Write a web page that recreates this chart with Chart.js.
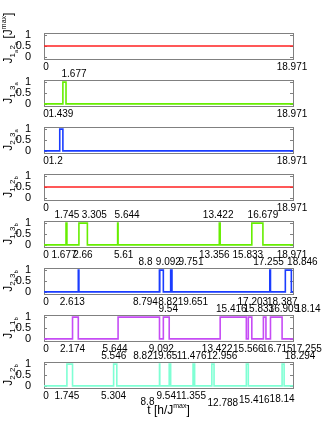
<!DOCTYPE html>
<html><head><meta charset="utf-8">
<script src="https://cdn.jsdelivr.net/npm/chart.js@4/dist/chart.umd.min.js"></script>
<style>
html,body{margin:0;padding:0;background:#fff;}
#wrap{position:relative;width:324px;height:444px;overflow:hidden;background:#fff;}
#wrap canvas{position:absolute;left:0;}
</style></head><body><div id="wrap"></div>
<script>
const tMax = 18.971;
// switching times (x) and coupling states (y), one pair per panel
const t_1a2a = [0, 18.971];
const J_1a2a = [0.5, 0.5];
const t_1a3a = [0, 1.439, 1.677, 18.971];
const J_1a3a = [0, 1, 0, 0];
const t_2a3a = [0, 1.2, 1.439, 18.971];
const J_2a3a = [0, 1, 0, 0];
const t_1b2b = [0, 18.971];
const J_1b2b = [0.5, 0.5];
const t_1b3b = [0, 1.677, 1.745, 2.66, 3.305, 5.61, 5.644, 13.356, 13.422, 15.833, 16.679, 18.971];
const J_1b3b = [0, 1, 0, 1, 0, 1, 0, 1, 0, 1, 0, 0];
const t_2b3b = [0, 2.613, 2.66, 8.794, 8.8, 8.821, 9.092, 9.651, 9.751, 17.203, 17.255, 18.387, 18.846, 18.971];
const J_2b3b = [0, 1, 0, 1, 0, 1, 0, 1, 0, 1, 0, 1, 0, 0];
const t_1a1b = [0, 2.174, 2.613, 5.644, 8.8, 9.092, 9.54, 13.422, 15.416, 15.566, 15.833, 16.715, 16.909, 17.255, 18.14, 18.971];
const J_1a1b = [0, 1, 0, 1, 0, 1, 0, 1, 0, 1, 0, 1, 0, 1, 0, 0];
const t_2a2b = [0, 1.745, 2.174, 5.304, 5.546, 8.8, 8.821, 9.54, 9.65, 11.355, 11.476, 12.788, 12.956, 15.416, 15.566, 18.14, 18.294, 18.971];
const J_2a2b = [0, 1, 0, 1, 0, 1, 0, 1, 0, 1, 0, 1, 0, 1, 0, 1, 0, 0];
// x tick labels: below each panel (switch-on) and above (switch-off)
const below_1a2a = ['0', '18.971'];
const above_1a2a = [];
const below_1a3a = ['0', '1.439', '18.971'];
const above_1a3a = ['1.677'];
const below_2a3a = ['0', '1.2', '18.971'];
const above_2a3a = [];
const below_1b2b = ['0', '18.971'];
const above_1b2b = [];
const below_1b3b = ['0', '1.677', '2.66', '5.61', '13.356', '15.833', '18.971'];
const above_1b3b = ['1.745', '3.305', '5.644', '13.422', '16.679'];
const below_2b3b = ['0', '2.613', '8.794', '8.821', '9.651', '17.203', '18.387'];
const above_2b3b = ['8.8', '9.092', '9.751', '17.255', '18.846'];
const below_1a1b = ['0', '2.174', '5.644', '9.092', '13.422', '15.566', '16.715', '17.255'];
const above_1a1b = ['9.54', '15.416', '15.833', '16.909', '18.14'];
const below_2a2b = ['0', '1.745', '5.304', '8.8', '9.54', '11.355', '12.788', '15.416', '18.14'];
const above_2a2b = ['5.546', '8.821', '9.65', '11.476', '12.956', '18.294'];
const yTicks = [0, 0.5, 1];

// label placement style: pixel offsets [dx, dy] that de-clutter crowded tick labels
const labelShift = {
  'all:0': [2, 0], 'all:18.971': [-1, 0],
  '1:a:1.677': [8, 0], '1:b:1.439': [-2, 0], '2:b:1.2': [-4, 0],
  '4:a:3.305': [7, 0], '4:a:5.644': [9, 0], '4:a:13.422': [-2, 0],
  '4:b:1.677': [-2, 0], '4:b:2.66': [4, 0], '4:b:5.61': [6, 0], '4:b:13.356': [-5, 0], '4:b:15.833': [-4, 0],
  '5:a:8.8': [-14, 0], '5:a:9.092': [5, 0], '5:a:9.751': [19, 0], '5:a:17.255': [-2, 0], '5:a:18.846': [11, 0],
  '5:b:2.613': [-6, 0], '5:b:8.794': [-14, 0], '5:b:8.821': [11, 0], '5:b:9.651': [25, 0], '5:b:17.203': [-17, 0], '5:b:18.387': [-3, 0],
  '6:a:9.54': [-1, 0], '6:a:15.416': [-15, 0], '6:a:15.833': [7, 0], '6:a:16.909': [18, 0], '6:a:18.14': [26, 0],
  '6:b:5.644': [-3, 0], '6:b:9.092': [-2, 0], '6:b:13.422': [-3, 0], '6:b:16.715': [14, 0], '6:b:17.255': [36, 0],
  '7:a:5.546': [-3, 0], '7:a:8.821': [-14, 0], '7:a:9.65': [-3, 0], '7:a:11.476': [-3, 0], '7:a:12.956': [8, 0], '7:a:18.294': [16, 0],
  '7:b:8.8': [-12, 6], '7:b:9.54': [-3, 0], '7:b:11.355': [-2, 0], '7:b:12.788': [11, 7], '7:b:15.416': [8, 4], '7:b:18.14': [0, 3]
};

const FONT = '"Liberation Sans", Arial, sans-serif';
const panels = [
  {t: t_1a2a, J: J_1a2a, below: below_1a2a, above: above_1a2a, color: '#ff2020', ylab: [['J',0],['1',1],['a',2],['2',1],['a',2],[' [J',0],['max',-1],[']',0]]},
  {t: t_1a3a, J: J_1a3a, below: below_1a3a, above: above_1a3a, color: '#66ee00', ylab: [['J',0],['1',1],['a',2],['3',1],['a',2]]},
  {t: t_2a3a, J: J_2a3a, below: below_2a3a, above: above_2a3a, color: '#1a3cff', ylab: [['J',0],['2',1],['a',2],['3',1],['a',2]]},
  {t: t_1b2b, J: J_1b2b, below: below_1b2b, above: above_1b2b, color: '#ff2020', ylab: [['J',0],['1',1],['b',2],['2',1],['b',2]]},
  {t: t_1b3b, J: J_1b3b, below: below_1b3b, above: above_1b3b, color: '#66ee00', ylab: [['J',0],['1',1],['b',2],['3',1],['b',2]]},
  {t: t_2b3b, J: J_2b3b, below: below_2b3b, above: above_2b3b, color: '#1a3cff', ylab: [['J',0],['2',1],['b',2],['3',1],['b',2]]},
  {t: t_1a1b, J: J_1a1b, below: below_1a1b, above: above_1a1b, color: '#c64cf5', ylab: [['J',0],['1',1],['a',2],['1',1],['b',2]]},
  {t: t_2a2b, J: J_2a2b, below: below_2a2b, above: above_2a2b, color: '#7fffd4', ylab: [['J',0],['2',1],['a',2],['2',1],['b',2]]}
];

const LV = {'0': {size: 12, dy: 0}, '1': {size: 8, dy: 3}, '2': {size: 6, dy: 5.5}, '-1': {size: 7, dy: -6}};
function richWidth(ctx, parts) {
  let w = 0;
  for (const [s, l] of parts) { ctx.font = LV[l].size + 'px ' + FONT; w += ctx.measureText(s).width; }
  return w;
}
function drawRich(ctx, parts, cx, cy, rotate) {
  ctx.save();
  ctx.translate(cx, cy);
  if (rotate) ctx.rotate(-Math.PI / 2);
  const w = richWidth(ctx, parts);
  let x = -w / 2;
  ctx.textBaseline = 'alphabetic';
  ctx.textAlign = 'left';
  ctx.fillStyle = '#000';
  for (const [s, l] of parts) {
    ctx.font = LV[l].size + 'px ' + FONT;
    ctx.fillText(s, x, LV[l].dy);
    x += ctx.measureText(s).width;
  }
  ctx.restore();
}
function drawRow(ctx, xs, labels, y, key) {
  ctx.font = '10px ' + FONT;
  ctx.textBaseline = 'middle';
  ctx.textAlign = 'center';
  ctx.fillStyle = '#000';
  for (const s of labels) {
    const sh = labelShift[key + ':' + s] || labelShift['all:' + s] || [0, 0];
    ctx.fillText(s, xs.getPixelForValue(parseFloat(s)) + sh[0], y + sh[1]);
  }
}

const TOP0 = 33, STEP = 47, H = 26;
const wrap = document.getElementById('wrap');
panels.forEach((p, i) => {
  const top = TOP0 + STEP * i;
  const padTop = 22, padBot = (i === panels.length - 1) ? 36 : 22;
  const cv = document.createElement('canvas');
  const ch = H + padTop + padBot;
  cv.width = 324; cv.height = ch;
  cv.style.width = '324px'; cv.style.height = ch + 'px';
  cv.style.top = (top - padTop) + 'px';
  wrap.appendChild(cv);
  const deco = {
    id: 'deco' + i,
    beforeDatasetsDraw(chart) {
      const {ctx, chartArea: a, scales: {y}} = chart;
      ctx.save();
      ctx.strokeStyle = '#808080';
      ctx.lineWidth = 1;
      ctx.strokeRect(Math.round(a.left) + 0.5, Math.round(a.top) + 0.5, Math.round(a.right - a.left), Math.round(a.bottom - a.top));
      for (const v of yTicks) {
        const py = Math.round(y.getPixelForValue(v)) + 0.5;
        ctx.beginPath();
        ctx.moveTo(a.left, py); ctx.lineTo(a.left + 3, py);
        ctx.moveTo(a.right, py); ctx.lineTo(a.right - 3, py);
        ctx.stroke();
      }
      ctx.restore();
    },
    afterDraw(chart) {
      const {ctx, chartArea: a, scales: {x}} = chart;
      ctx.save();
      drawRow(ctx, x, p.below, a.bottom + 8, i + ':b');
      drawRow(ctx, x, p.above, a.top - 6, i + ':a');
      drawRich(ctx, p.ylab, 12, (a.top + a.bottom) / 2 + (i === 0 ? -8 : 0), true);
      if (i === panels.length - 1) {
        drawRich(ctx, [['t [h/J',0],['max',-1],[']',0]], (a.left + a.right) / 2, a.bottom + 26, false);
      }
      ctx.restore();
    }
  };
  new Chart(cv, {
    type: 'line',
    data: {datasets: [{
      data: p.t.map((x, k) => ({x: x, y: p.J[k]})),
      borderColor: p.color, borderWidth: 1.6, stepped: true,
      pointRadius: 0, fill: false, tension: 0
    }]},
    options: {
      responsive: false, animation: false, events: [],
      layout: {padding: {top: padTop, bottom: padBot, left: 0, right: 31}},
      plugins: {legend: {display: false}, tooltip: {enabled: false}, title: {display: false}},
      scales: {
        x: {type: 'linear', min: 0, max: tMax, display: false},
        y: {
          min: -0.1, max: 1.1,
          afterFit(s) { s.width = 44; },
          afterBuildTicks(s) { s.ticks = yTicks.map(v => ({value: v})); },
          grid: {display: false}, border: {display: false},
          ticks: {font: {family: FONT, size: 11}, color: '#000', padding: 5, autoSkip: false,
                  callback: (v) => String(v)}
        }
      }
    },
    plugins: [deco]
  });
});
</script></body></html>
